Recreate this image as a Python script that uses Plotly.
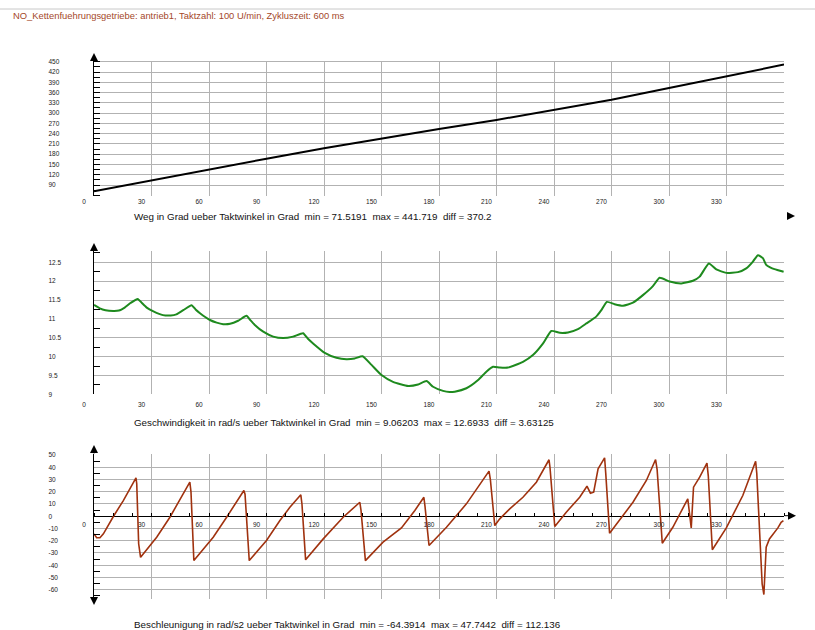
import plotly.graph_objects as go

W, H = 815, 630

# ---------------- data ----------------
weg_deg = [0, 30, 60, 90, 120, 150, 180, 210, 240, 270, 300, 330, 360]
weg_val = [71.52, 104.0, 136.0, 167.0, 197.5, 226.5, 253.5, 280.0, 308.5, 339.0, 373.0, 408.0, 441.72]

vel_deg = [0, 3, 6, 10, 13, 16, 19, 22.8, 25, 27.5, 31, 36, 40, 43, 46.6, 50.9, 53, 55.3, 58,
           60.5, 64, 67.4, 71, 75.2, 79.6, 81.5, 83.9, 88.3, 93.5, 98.7, 103.9, 109.1, 111.5,
           114.3, 120.4, 126.5, 131.7, 136, 140.1, 144.8, 150, 156, 163.9, 169.1, 173.5, 176.9,
           182.1, 185.5, 188.2, 194.3, 200.4, 204.7, 208.2, 211.7, 216, 223.8, 229, 234.3, 238.6,
           243, 247.3, 252.5, 256.9, 262, 264.7, 267.6, 271.6, 276, 281.2, 286.4, 291.6, 295.1,
           300.3, 306.4, 312.5, 316, 320.8, 324.7, 329.9, 336, 340.3, 343.8, 346.4, 349, 350.7,
           353, 355, 359.8]
vel_val = [11.37, 11.28, 11.23, 11.21, 11.22, 11.30, 11.42, 11.53, 11.42, 11.30, 11.20, 11.10,
           11.09, 11.12, 11.23, 11.36, 11.25, 11.15, 11.05, 10.97, 10.90, 10.86, 10.87, 10.95,
           11.08, 10.97, 10.84, 10.66, 10.53, 10.49, 10.53, 10.62, 10.48, 10.35, 10.10, 9.97,
           9.93, 9.95, 10.01, 9.78, 9.51, 9.33, 9.22, 9.26, 9.35, 9.20, 9.09, 9.06, 9.07, 9.16,
           9.38, 9.60, 9.73, 9.71, 9.71, 9.86, 10.04, 10.35, 10.68, 10.63, 10.64, 10.73, 10.88,
           11.06, 11.23, 11.45, 11.39, 11.35, 11.43, 11.63, 11.87, 12.09, 11.99, 11.94, 12.01,
           12.12, 12.47, 12.31, 12.22, 12.24, 12.34, 12.52, 12.69, 12.61, 12.43, 12.36, 12.32,
           12.25]

acc_deg = [0, 1.4, 3.1, 4.9, 10.1, 15.3, 21.9, 22.3, 23.3, 24.3, 32.7, 39.6, 50.0, 50.6, 52.1,
           62.2, 69.2, 78.2, 78.8, 81.0, 90.0, 97, 102.2, 107.9, 108.5, 110.4, 119.6, 130, 138.7,
           139.3, 141.6, 150.8, 160.4, 167.4, 172.1, 172.7, 174.8, 183.9, 194.3, 206.1, 206.8,
           209.1, 211.7, 216.9, 223.8, 230.8, 237.4, 237.9, 240.4, 246.4, 253.4, 257.2, 259,
           260.7, 263, 266.4, 267, 269, 281.2, 288.2, 293, 293.8, 296.5, 302, 309.8, 310.6,
           311.6, 312.8, 316, 319.8, 320.5, 322.6, 329.9, 338.5, 345.2, 345.8, 348.6, 349.5,
           350.2, 350.7, 352.4, 356.8, 358.5, 359.7]
acc_val = [-14.4, -17.6, -17.6, -14.4, -0.2, 12.8, 31.3, 26.5, -22.5, -33.5, -17.1, -0.8, 27.8,
           20, -36.2, -17.1, -0.8, 21, 18, -36.2, -19.8, -3.5, 7.3, 17.5, 10, -35.6, -18.5, -0.8,
           11.4, 5, -36.2, -21.2, -9.5, 4.7, 15.5, 8, -23.9, -9, 10.1, 36.8, 30, -7.6, -2.1, 6,
           15.5, 27.8, 46.1, 40, -8.4, 3.3, 15.5, 24.5, 18.8, 19.6, 38.7, 47.7, 35, -13.9, 11.4,
           29.2, 46.3, 38, -22, -9, 14.2, 2, -9.5, 23.7, 31.9, 43.3, 33, -27.4, -9.5, 16.9, 44.9,
           35, -55.2, -63.9, -41.6, -25.3, -18.5, -9.5, -4.9, -3.5]

x_ticks = [0, 30, 60, 90, 120, 150, 180, 210, 240, 270, 300, 330]
weg_ticks = [90, 120, 150, 180, 210, 240, 270, 300, 330, 360, 390, 420, 450]
vel_ticks = [9, 9.5, 10, 10.5, 11, 11.5, 12, 12.5]
acc_ticks = [-60, -50, -40, -30, -20, -10, 0, 10, 20, 30, 40, 50]

title_text = "NO_Kettenfuehrungsgetriebe: antrieb1, Taktzahl: 100 U/min, Zykluszeit: 600 ms"
cap1 = "Weg in Grad ueber Taktwinkel in Grad  min = 71.5191  max = 441.719  diff = 370.2"
cap2 = "Geschwindigkeit in rad/s ueber Taktwinkel in Grad  min = 9.06203  max = 12.6933  diff = 3.63125"
cap3 = "Beschleunigung in rad/s2 ueber Taktwinkel in Grad  min = -64.3914  max = 47.7442  diff = 112.136"

# ---------------- layout helpers ----------------
def px_x(p):
    return p / W

def px_y(p):
    return 1 - p / H

XDOM = [px_x(94), px_x(784)]
DOM1 = [px_y(196), px_y(60.7)]
DOM2 = [px_y(394.3), px_y(251)]
DOM3 = [px_y(599.3), px_y(454)]
R1 = [58, 453]
R2 = [9, 12.8]
R3 = [-67.8, 50.8]

GRID = "#b2b2b2"
FONT = "Liberation Sans, Arial, sans-serif"
TICKFONT = dict(family=FONT, size=6.5, color="#222222")

fig = go.Figure()
fig.add_trace(go.Scatter(x=weg_deg, y=weg_val, mode="lines", line=dict(color="#000000", width=2),
                         xaxis="x", yaxis="y", showlegend=False, hoverinfo="skip"))
fig.add_trace(go.Scatter(x=vel_deg, y=vel_val, mode="lines",
                         line=dict(color="#1e8a1e", width=2, shape="spline", smoothing=0.5),
                         xaxis="x2", yaxis="y2", showlegend=False, hoverinfo="skip"))
fig.add_trace(go.Scatter(x=acc_deg, y=acc_val, mode="lines", line=dict(color="#a0320f", width=1.6),
                         xaxis="x3", yaxis="y3", showlegend=False, hoverinfo="skip"))
# invisible traces so the label-only overlay axes are drawn
for xa, ya, xs, ys in [("x", "y4", weg_deg, weg_val), ("x2", "y5", vel_deg, vel_val),
                       ("x3", "y6", acc_deg, acc_val)]:
    fig.add_trace(go.Scatter(x=xs, y=ys, mode="lines", line=dict(width=0, color="rgba(0,0,0,0)"),
                             xaxis=xa, yaxis=ya, showlegend=False, hoverinfo="skip"))


def xaxis_common(anchor, position=None, minor=None, standoff=0):
    d = dict(domain=XDOM, range=[0, 360], tickmode="array", tickvals=x_ticks,
             ticktext=[str(v) for v in x_ticks], ticks="", showgrid=True, gridcolor=GRID,
             gridwidth=1, zeroline=False, tickfont=TICKFONT,
             ticklabelshift=-10, ticklabelstandoff=standoff, showline=False,
             automargin=False, fixedrange=True)
    if position is None:
        d["anchor"] = anchor
    else:
        d["anchor"] = "free"
        d["position"] = position
    if minor:
        d["minor"] = minor
    return d


def yaxis_main(dom, rng, ticks, minor, anchor):
    return dict(domain=dom, range=rng, tickmode="array", tickvals=ticks, showticklabels=False,
                ticks="", showgrid=True, gridcolor=GRID, gridwidth=1, zeroline=False,
                showline=True, linecolor="#000000", linewidth=1, anchor=anchor,
                minor=minor, automargin=False, fixedrange=True)


def yaxis_labels(over, rng, ticks, fmt):
    return dict(overlaying=over, side="right", anchor="free", position=px_x(47.5), range=rng,
                tickmode="array", tickvals=ticks, ticktext=[fmt(v) for v in ticks],
                showgrid=False, zeroline=False, showline=False, ticks="",
                tickfont=TICKFONT, automargin=False, fixedrange=True)


pos0 = DOM3[0] + (0 - R3[0]) / (R3[1] - R3[0]) * (DOM3[1] - DOM3[0])

y1 = yaxis_main(DOM1, R1, weg_ticks, dict(ticks="inside", tick0=0, dtick=15, ticklen=6,
                                          tickcolor="#000000", showgrid=False), "x")
y2 = yaxis_main(DOM2, R2, vel_ticks, dict(ticks="inside", tick0=9.25, dtick=0.5, ticklen=6,
                                          tickcolor="#000000", showgrid=False), "x2")
y3 = yaxis_main(DOM3, R3, acc_ticks, dict(ticks="inside", tick0=-65, dtick=10, ticklen=6,
                                          tickcolor="#000000", showgrid=False), "x3")
y3["zeroline"] = True
y3["zerolinecolor"] = "#000000"
y3["zerolinewidth"] = 1


def fmt_num(v):
    return ("%g" % v)


fig.update_layout(
    width=W, height=H,
    margin=dict(l=0, r=0, t=0, b=0, autoexpand=False),
    paper_bgcolor="#ffffff", plot_bgcolor="#ffffff",
    font=dict(family=FONT),
    xaxis=xaxis_common("y"),
    xaxis2=xaxis_common("y2", standoff=5),
    xaxis3=xaxis_common("y3", position=pos0, standoff=3,
                        minor=dict(ticks="inside", dtick=10, tick0=0, ticklen=3,
                                   tickcolor="#000000", showgrid=False)),
    yaxis=y1, yaxis2=y2, yaxis3=y3,
    yaxis4=yaxis_labels("y", R1, weg_ticks, fmt_num),
    yaxis5=yaxis_labels("y2", R2, vel_ticks, fmt_num),
    yaxis6=yaxis_labels("y3", R3, acc_ticks, fmt_num),
    showlegend=False,
)

# page header line and title
fig.add_shape(type="line", xref="paper", yref="paper", x0=0, x1=1, y0=px_y(9), y1=px_y(9),
              line=dict(color="#c8c8c8", width=1))
fig.add_annotation(text=title_text, xref="paper", yref="paper", x=px_x(10.5), y=px_y(15.5),
                   xanchor="left", yanchor="middle", showarrow=False,
                   font=dict(family=FONT, size=9.4, color="#a4482a"))

# captions
for txt, yy in [(cap1, 216), (cap2, 423), (cap3, 624)]:
    fig.add_annotation(text=txt, xref="paper", yref="paper", x=px_x(132), y=px_y(yy),
                       xanchor="left", yanchor="middle", showarrow=False,
                       font=dict(family=FONT, size=9.8, color="#111111"))

# axis arrows
def arrow(xp, yp, ax, ay):
    fig.add_annotation(text="", xref="paper", yref="paper", x=px_x(xp), y=px_y(yp),
                       ax=ax, ay=ay, showarrow=True, arrowhead=2, arrowsize=1.6,
                       arrowwidth=1, arrowcolor="#000000")

arrow(94, 53, 0, 9)      # top panel y arrow
arrow(795, 216, -9, 0)   # top panel x arrow
arrow(94, 243, 0, 9)     # middle panel y arrow
arrow(94, 445, 0, 10)    # bottom panel y arrow (up)
arrow(94, 605, 0, -7)    # bottom panel y arrow (down)
arrow(796, 515.7, -13, 0)  # bottom panel x arrow

fig.write_html(
    "out.html",
    config={"displayModeBar": False},
    post_script="document.body.style.margin='0';document.body.style.padding='0';"
                "document.body.style.overflow='hidden';",
)
